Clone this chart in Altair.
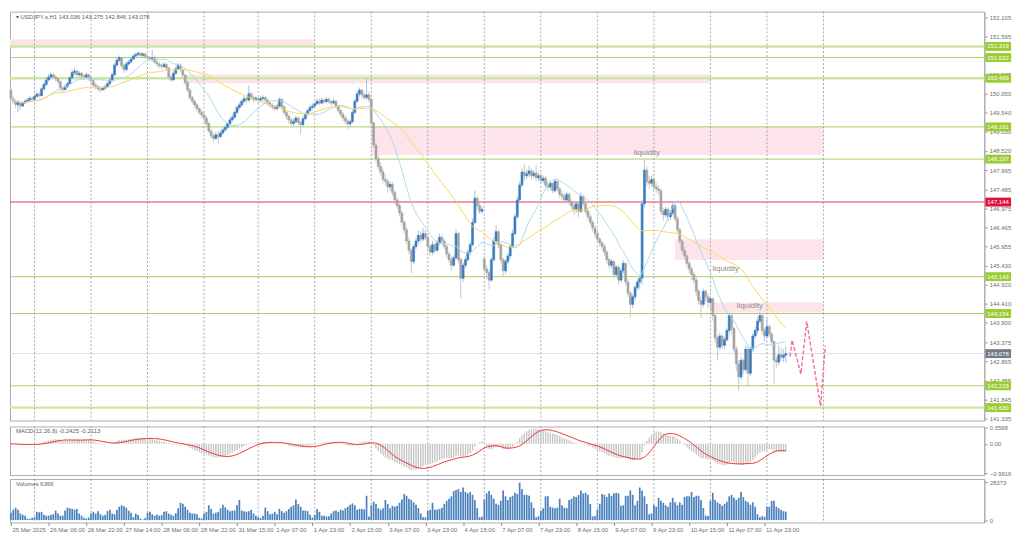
import json
import numpy as np
import pandas as pd
import altair as alt

# ---------------- data ----------------
header_text = "\u25be USDJPY.s,H1  143.036 143.275 142.846 143.078"
macd_text = "MACD(12,26,9) -0.2425 -0.2113"
vol_text = "Volumes 6366"

bar_labels = ["25 Mar 2025", "26 Mar 06:00", "26 Mar 22:00", "27 Mar 14:00", "28 Mar 06:00",
              "28 Mar 22:00", "31 Mar 15:00", "1 Apr 07:00", "1 Apr 23:00", "2 Apr 15:00",
              "3 Apr 07:00", "3 Apr 23:00", "4 Apr 15:00", "7 Apr 07:00", "7 Apr 23:00",
              "8 Apr 15:00", "9 Apr 07:00", "9 Apr 23:00", "10 Apr 15:00", "11 Apr 07:00",
              "11 Apr 23:00"]
label_every = 16
day_starts = [10, 34, 58, 82, 105, 129, 153, 177, 201, 225, 249, 273, 297, 321, 345]

price_ticks = [152.105, 151.595, 151.085, 150.575, 150.050, 149.540, 149.030, 148.520,
               147.995, 147.485, 146.975, 146.465, 145.955, 145.430, 144.920, 144.410,
               143.900, 143.375, 142.865, 142.355, 141.845, 141.335]
macd_ticks = [0.5568, 0.0, -0.9916]
vol_ticks = [0, 28373]

first_open = 150.15
gap_opens = {201: 145.62}
closes = [
    149.92, 149.85, 149.76, 149.82, 149.72, 149.80, 149.85, 149.88, 149.93, 149.90,
    149.98, 150.04, 150.00, 150.18, 150.30, 150.42, 150.50, 150.56, 150.50, 150.46,
    150.38, 150.20, 150.16, 150.24, 150.32, 150.48, 150.62, 150.66, 150.56, 150.60,
    150.52, 150.50, 150.56, 150.48, 150.40, 150.28, 150.24, 150.18, 150.16, 150.20,
    150.24, 150.32, 150.42, 150.56, 150.82, 150.95, 151.02, 150.80, 150.70, 150.85,
    150.90, 150.98, 151.06, 151.10, 151.14, 151.08, 151.12, 151.05, 151.02, 150.98,
    151.02, 150.90, 150.85, 150.80, 150.78, 150.84, 150.74, 150.50, 150.42, 150.60,
    150.72, 150.82, 150.70, 150.55, 150.35, 150.15, 149.95, 149.85, 149.75, 149.65,
    149.55, 149.48, 149.40, 149.25, 149.05, 148.92, 148.85, 148.95, 148.90, 149.00,
    149.08, 149.15, 149.25, 149.35, 149.42, 149.55, 149.68, 149.75, 149.85, 149.92,
    149.88, 150.05, 149.95, 149.90, 149.93, 149.88, 149.92, 149.95, 149.88, 149.80,
    149.75, 149.70, 149.65, 149.72, 149.90, 149.70, 149.55, 149.45, 149.35, 149.25,
    149.30, 149.40, 149.28, 149.22, 149.38, 149.50, 149.60, 149.68, 149.72, 149.78,
    149.85, 149.80, 149.88, 149.84, 149.90, 149.84, 149.80, 149.85, 149.72, 149.60,
    149.50, 149.40, 149.32, 149.24, 149.30, 149.55, 149.85, 150.05, 150.15, 150.02,
    149.95, 150.02, 149.90, 149.27, 148.67, 148.30, 148.10, 147.95, 147.75, 147.70,
    147.55, 147.62, 147.40, 147.20, 147.05, 146.85, 146.60, 146.40, 146.10, 145.85,
    145.55, 145.95, 146.10, 146.25, 146.15, 146.30, 146.20, 145.95, 145.80, 146.00,
    145.85, 146.05, 146.20, 146.10, 145.95, 145.75, 145.60, 145.45, 145.65, 146.30,
    145.60, 145.10, 145.45, 145.60, 145.80, 146.00, 146.60, 147.25, 147.05, 146.90,
    146.95, 145.35, 145.25, 145.05, 145.60, 146.10, 146.35, 146.00, 145.60, 145.30,
    145.55, 145.70, 145.95, 146.30, 146.75, 147.20, 147.60, 147.95, 147.85, 147.90,
    147.98, 147.85, 147.92, 147.80, 147.85, 147.72, 147.78, 147.60, 147.55, 147.65,
    147.45, 147.70, 147.50, 147.35, 147.30, 147.20, 147.35, 147.15, 147.05, 146.95,
    147.10, 146.90, 147.30, 147.10, 146.90, 146.75, 146.60, 146.45, 146.30, 146.15,
    146.05, 145.95, 145.80, 145.60, 145.45, 145.55, 145.20, 145.40, 145.05, 145.30,
    145.50, 145.00, 144.70, 144.40, 144.60, 144.85, 145.00, 145.10, 147.10, 148.00,
    147.70, 147.65, 147.75, 147.55, 147.50, 147.45, 146.90, 146.80, 146.95, 146.75,
    146.85, 147.05, 146.70, 146.40, 146.10, 145.85, 145.70, 145.50, 145.35, 145.20,
    145.05, 144.75, 144.50, 144.40, 144.75, 144.60, 144.45, 144.55, 144.10, 143.50,
    143.25, 143.55, 143.30, 143.45, 143.70, 144.10, 143.75, 143.20, 142.80, 142.45,
    142.90, 142.65, 143.20, 142.55, 143.20, 143.55, 143.70, 143.95, 144.10, 143.70,
    143.55, 143.80, 143.60, 143.40, 142.90, 142.85, 143.05, 142.98, 143.036, 143.078,
]
highs = [
    150.22, 149.98, 149.90, 149.88, 149.86, 149.84, 149.90, 149.94, 149.98, 149.97,
    150.04, 150.10, 150.08, 150.22, 150.36, 150.48, 150.58, 150.62, 150.60, 150.55,
    150.50, 150.40, 150.26, 150.30, 150.38, 150.52, 150.70, 150.76, 150.70, 150.66,
    150.64, 150.58, 150.62, 150.60, 150.52, 150.44, 150.34, 150.30, 150.24, 150.26,
    150.30, 150.38, 150.48, 150.62, 150.88, 151.00, 151.08, 151.04, 150.86, 150.92,
    150.96, 151.04, 151.12, 151.16, 151.19, 151.17, 151.16, 151.14, 151.10, 151.06,
    151.22, 151.08, 150.96, 150.90, 150.86, 150.90, 150.88, 150.78, 150.56, 150.66,
    150.78, 150.88, 150.86, 150.72, 150.58, 150.40, 150.20, 150.00, 149.90, 149.80,
    149.70, 149.62, 149.56, 149.45, 149.30, 149.10, 148.98, 149.02, 149.05, 149.06,
    149.14, 149.22, 149.30, 149.42, 149.50, 149.60, 149.74, 149.82, 149.90, 150.00,
    149.98, 150.27, 150.10, 150.00, 150.00, 149.96, 150.00, 150.02, 149.98, 149.92,
    149.84, 149.80, 149.74, 149.78, 149.96, 149.92, 149.74, 149.60, 149.50, 149.40,
    149.38, 149.46, 149.44, 149.32, 149.44, 149.56, 149.66, 149.76, 149.80, 149.84,
    149.92, 149.92, 149.94, 149.94, 149.96, 149.96, 149.88, 149.92, 149.88, 149.76,
    149.66, 149.56, 149.46, 149.38, 149.36, 149.62, 149.92, 150.12, 150.22, 150.18,
    150.08, 150.49, 150.10, 149.94, 149.30, 148.74, 148.40, 148.20, 148.04, 147.88,
    147.78, 147.70, 147.68, 147.46, 147.26, 147.10, 146.92, 146.66, 146.48, 146.20,
    145.90, 146.02, 146.20, 146.38, 146.36, 146.45, 146.40, 146.25, 146.02, 146.10,
    146.06, 146.12, 146.30, 146.28, 146.16, 146.00, 145.82, 145.68, 145.72, 146.42,
    146.34, 145.66, 145.52, 145.68, 145.88, 146.08, 146.70, 147.45, 147.30, 147.12,
    147.02, 145.70, 145.45, 145.32, 145.68, 146.20, 146.52, 146.40, 146.05, 145.66,
    145.62, 145.78, 146.02, 146.40, 146.82, 147.28, 147.70, 148.05, 148.15, 148.02,
    148.12, 148.05, 148.00, 148.14, 147.94, 147.92, 147.86, 147.84, 147.70, 147.72,
    147.66, 147.76, 147.72, 147.55, 147.44, 147.38, 147.42, 147.40, 147.22, 147.12,
    147.16, 147.14, 147.41, 147.34, 147.14, 146.96, 146.82, 146.66, 146.52, 146.40,
    146.20, 146.10, 146.02, 145.86, 145.66, 145.62, 145.58, 145.46, 145.45, 145.38,
    145.58, 145.52, 145.08, 144.76, 144.66, 144.92, 145.08, 145.18, 147.20, 148.28,
    148.10, 147.85, 147.86, 147.82, 147.66, 147.60, 147.50, 147.00, 147.02, 147.00,
    146.94, 147.15, 147.10, 146.76, 146.46, 146.16, 145.94, 145.76, 145.56, 145.42,
    145.28, 145.12, 144.82, 144.60, 144.82, 144.80, 144.68, 144.62, 144.58, 144.15,
    143.58, 143.64, 143.60, 143.52, 143.78, 144.18, 144.14, 143.80, 143.28, 142.90,
    142.98, 142.95, 143.30, 143.25, 143.26, 143.62, 143.80, 144.05, 144.20, 144.14,
    143.78, 144.03, 143.86, 143.66, 143.42, 143.00, 143.30, 143.24, 143.20, 143.275,
]
lows = [
    149.88, 149.78, 149.66, 149.56, 149.62, 149.70, 149.78, 149.82, 149.85, 149.84,
    149.86, 149.95, 149.94, 149.98, 150.14, 150.26, 150.38, 150.45, 150.44, 150.38,
    150.30, 150.12, 150.08, 150.14, 150.20, 150.30, 150.45, 150.55, 150.50, 150.50,
    150.45, 150.42, 150.46, 150.40, 150.32, 150.22, 150.16, 150.10, 150.08, 150.12,
    150.14, 150.20, 150.28, 150.38, 150.52, 150.78, 150.90, 150.72, 150.60, 150.66,
    150.80, 150.88, 150.95, 151.02, 151.06, 151.02, 151.04, 150.98, 150.95, 150.90,
    150.92, 150.86, 150.78, 150.74, 150.70, 150.74, 150.66, 150.44, 150.36, 150.40,
    150.56, 150.68, 150.62, 150.48, 150.28, 150.08, 149.88, 149.78, 149.66, 149.58,
    149.48, 149.40, 149.30, 149.18, 149.00, 148.86, 148.75, 148.82, 148.71, 148.86,
    148.95, 149.02, 149.10, 149.20, 149.30, 149.38, 149.50, 149.62, 149.70, 149.80,
    149.80, 149.84, 149.88, 149.82, 149.84, 149.80, 149.84, 149.86, 149.80, 149.72,
    149.68, 149.62, 149.58, 149.60, 149.68, 149.62, 149.48, 149.36, 149.25, 149.16,
    149.18, 149.26, 149.20, 148.97, 149.18, 149.34, 149.46, 149.56, 149.62, 149.68,
    149.74, 149.74, 149.76, 149.78, 149.80, 149.78, 149.72, 149.76, 149.66, 149.54,
    149.42, 149.32, 149.22, 149.10, 149.18, 149.26, 149.50, 149.80, 149.98, 149.94,
    149.88, 149.90, 149.82, 149.20, 148.60, 148.22, 148.02, 147.85, 147.66, 147.60,
    147.40, 147.45, 147.30, 147.10, 146.96, 146.76, 146.50, 146.30, 146.02, 145.75,
    145.24, 145.48, 145.88, 146.02, 146.05, 146.08, 146.12, 145.88, 145.70, 145.72,
    145.76, 145.80, 146.00, 146.02, 145.88, 145.66, 145.52, 145.30, 145.40, 145.60,
    145.50, 144.55, 145.00, 145.38, 145.55, 145.72, 145.96, 146.55, 146.95, 146.82,
    146.84, 145.28, 145.10, 144.81, 145.00, 145.55, 146.02, 145.90, 145.50, 145.15,
    145.22, 145.48, 145.62, 145.90, 146.25, 146.70, 147.15, 147.55, 147.72, 147.75,
    147.82, 147.74, 147.78, 147.70, 147.72, 147.64, 147.66, 147.52, 147.44, 147.48,
    147.38, 147.40, 147.42, 147.26, 147.18, 147.10, 147.14, 147.06, 146.95, 146.80,
    146.86, 146.74, 146.85, 147.02, 146.82, 146.66, 146.52, 146.36, 146.20, 146.05,
    145.96, 145.84, 145.70, 145.50, 145.36, 145.38, 145.10, 145.14, 144.94, 144.98,
    145.22, 144.90, 144.59, 144.05, 144.30, 144.52, 144.78, 144.80, 144.94, 147.00,
    147.58, 147.50, 147.56, 147.44, 147.38, 147.32, 146.80, 146.64, 146.72, 146.62,
    146.66, 146.78, 146.62, 146.32, 146.02, 145.76, 145.60, 145.40, 145.22, 145.05,
    144.95, 144.62, 144.38, 144.05, 144.32, 144.48, 144.30, 144.25, 143.96, 143.38,
    142.90, 143.18, 143.20, 143.22, 143.40, 143.62, 143.60, 143.10, 142.60, 142.08,
    142.38, 142.52, 142.60, 142.21, 142.48, 143.12, 143.48, 143.60, 143.88, 143.60,
    143.40, 143.48, 143.52, 143.30, 142.25, 142.70, 142.76, 142.88, 142.86, 142.846,
]
volumes = [
    5500, 7800, 9300, 7800, 4900, 4000, 3300, 1100, 900, 1800,
    2200, 6200, 5800, 6200, 4000, 3300, 3300, 4000, 4400, 7100, 4900, 3300, 3300, 7100,
    9300, 8900, 8400, 7800, 8400, 4900, 3300, 1800, 1100, 2000,
    4900, 6200, 4900, 6700, 4400, 3300, 4000, 6700, 7800, 4900, 4400, 7800, 10000, 11100,
    10400, 9300, 7100, 5500, 2200, 4900, 3800, 1100, 400, 1500,
    5500, 6200, 4400, 3300, 4000, 3300, 3800, 6200, 6700, 4900, 4000, 3300, 5200, 8900,
    12900, 12200, 10000, 7800, 5500, 4900, 4900, 4400, 1800, 1200,
    4900, 6200, 11100, 8400, 4900, 5500, 6200, 8900, 11500, 9500, 7800, 6700, 7100, 7100,
    11100, 15100, 7100, 6700, 6200, 6700, 7800, 5000, 3300,
    2200, 1500, 3300, 9300, 6700, 4400, 4900, 6200, 4400, 8400, 6700, 5500, 6700, 8400,
    10000, 11100, 15500, 12000, 10000, 7100, 7100, 6700, 4000, 1800,
    4000, 8400, 6200, 3300, 3300, 2700, 2900, 4900, 6700, 7100, 6200, 7800, 7100, 8900,
    10000, 11500, 12500, 11100, 7800, 8400, 8400, 8000, 18200, 2700,
    11100, 13800, 12200, 8900, 7800, 8900, 15100, 12000, 8900, 10700, 10000, 10700, 12900,
    15500, 19500, 18200, 16000, 15100, 13300, 11500, 9000, 4900, 2200, 2000,
    7100, 7800, 12900, 7800, 7800, 8400, 9300, 12200, 14400, 16000, 17800, 21800, 22600,
    23300, 21100, 24400, 21100, 20000, 21100, 18900, 15000, 8900, 2200, 2500,
    15500, 20000, 21800, 18900, 16000, 12200, 11500, 14400, 22200, 17800, 15100, 17300,
    18200, 20400, 19500, 28000, 23300, 18900, 18900, 18200, 13300, 9000, 2200, 3000,
    7100, 8900, 17800, 17800, 10000, 9300, 8900, 9300, 16000, 11100, 9300, 8900, 15100,
    16000, 17800, 17300, 18900, 22200, 20000, 20400, 19000, 12000, 2700, 3000,
    7800, 12200, 19500, 18900, 17300, 20000, 18200, 20000, 20400, 20000, 10700, 11100,
    18200, 18200, 22200, 18900, 11100, 14400, 24400, 22200, 17800, 12000, 4400, 5000,
    11500, 10000, 16700, 14400, 12900, 11100, 10000, 13300, 16700, 13300, 11100, 13300,
    11500, 17300, 17800, 17800, 21100, 17300, 18200, 18200, 15000, 9000, 3300, 3000,
    14400, 20400, 15100, 13300, 12200, 10700, 12200, 13800, 17800, 18900, 16700, 15100,
    16700, 21100, 17300, 14400, 13300, 11500, 13300, 10000, 4400, 2200, 3000, 2500,
    10000, 10000, 14400, 14400, 10000, 8900, 7500, 6700, 6366,
]

levels = [151.319, 151.022, 150.466, 149.161, 148.297, 147.144, 145.143, 144.154, 142.215, 141.630]
level_kind = ["pale", "line", "pale", "line", "line", "red", "line", "line", "line", "pale"]
bid_price = 143.078

zone_from = [-1, 74, 153, 282, 297.5]
zone_to = [129, 297, 345, 345, 345]
zone_low = [151.34, 150.33, 148.41, 145.59, 144.18]
zone_high = [151.51, 150.57, 149.17, 146.15, 144.45]

liq_bar = [270, 303.5, 313.75]
liq_price = [148.46, 145.34, 144.35]

proj_bar = [330.8, 331.7, 335.4, 337.9, 343.75, 345.8]
proj_price = [143.00, 143.44, 142.53, 143.94, 141.67, 143.29]

# ---------------- layout / style ----------------
W, H1, H2, H3 = 984, 413, 49, 44
X_DOMAIN = [-0.4, 413.3]
P_DOMAIN = [141.283, 152.255]
M_DOMAIN = [-1.057, 0.589]
V_DOMAIN = [-1800, 30800]
FONT = "Liberation Sans"
TXT = "#6e6e6e"
GRID = "#8e949a"
BORDER = "#a6acb3"

line_style = {"pale": ("#cfe5a2", 2.4), "line": ("#a9d05f", 1.0), "red": ("#e23a55", 1.1)}
box_style = {"pale": "#9acd32", "line": "#9acd32", "red": "#dc143c"}

# ---------------- tables ----------------
n = len(closes)
opens = [first_open] + closes[:-1]
for k, v in gap_opens.items():
    opens[k] = v
cdf = pd.DataFrame({"bar": np.arange(n), "open": opens, "high": highs, "low": lows, "close": closes})
up = cdf["close"] >= cdf["open"]
cdf["body_color"] = np.where(up, "#3b7bbf", "#a3a3a3")
cdf["wick_color"] = np.where(up, "#a2c2e4", "#c8c8c8")

close_s = pd.Series(closes)
macd_main = close_s.ewm(span=12, adjust=False).mean() - close_s.ewm(span=26, adjust=False).mean()
macd_sig = macd_main.rolling(9, min_periods=1).mean()
mdf = pd.DataFrame({"bar": np.arange(n), "macd": macd_main, "signal": macd_sig})

vdf = pd.DataFrame({"bar": np.arange(len(volumes)), "vol": volumes})
ddf = pd.DataFrame({"bar": day_starts})
zdf = pd.DataFrame({"x1": zone_from, "x2": zone_to, "lo": zone_low, "hi": zone_high})
ldf = pd.DataFrame({"price": levels,
                    "lc": [line_style[k][0] for k in level_kind],
                    "lw": [line_style[k][1] for k in level_kind]})
bdf = pd.DataFrame({"price": levels + [bid_price],
                    "fill": [box_style[k] for k in level_kind] + ["#737b85"]})
liq = pd.DataFrame({"bar": liq_bar, "price": liq_price, "t": ["liquidity"] * len(liq_bar)})
proj = pd.DataFrame({"bar": proj_bar, "price": proj_price, "i": range(len(proj_bar))})

# ---------------- scales & axes ----------------
xs = alt.Scale(domain=X_DOMAIN, nice=False, zero=False)
ps = alt.Scale(domain=P_DOMAIN, nice=False, zero=False)
ms = alt.Scale(domain=M_DOMAIN, nice=False, zero=False)
vs = alt.Scale(domain=V_DOMAIN, nice=False, zero=False)

def right_axis(values, **kw):
    return alt.Axis(orient="right", values=values, title=None, grid=False, labelFontSize=6,
                    labelColor=TXT, labelFont=FONT, tickSize=3, tickColor="#9a9a9a",
                    domainColor=BORDER, labelPadding=2, labelOverlap=False, **kw)

p_axis = right_axis(price_ticks, format=".3f")
m_axis = right_axis(macd_ticks, labelExpr="datum.value == 0 ? '0.00' : format(datum.value, '.4f')")
v_axis = right_axis(vol_ticks, format="d")
x_axis = alt.Axis(values=[label_every * i for i in range(len(bar_labels))],
                  labelExpr=json.dumps(bar_labels) + "[round(datum.value / %d)]" % label_every,
                  labelAlign="left", labelFontSize=6, labelColor=TXT, labelFont=FONT,
                  tickSize=3, tickColor="#8a8a8a", labelPadding=1, labelOffset=1,
                  domain=False, grid=False, title=None, labelOverlap=False, labelFlush=False,
                  labelBound=False)

X = lambda f, ax=None: alt.X(f, scale=xs, axis=ax)
YP = lambda f: alt.Y(f, scale=ps, axis=p_axis)

def day_rules(ax=None):
    return alt.Chart(ddf).mark_rule(color=GRID, strokeDash=[2, 2], strokeWidth=0.8).encode(
        x=X("bar:Q", ax))

def corner_text(text, y):
    return alt.Chart(pd.DataFrame({"t": [text]})).mark_text(
        align="left", baseline="middle", fontSize=6, font=FONT, color="#5e5e5e").encode(
        x=alt.value(6), y=alt.value(y), text="t:N")

# ---------------- main pane ----------------
zones = alt.Chart(zdf).mark_rect(color="#fce4ea", clip=True).encode(
    x=X("x1:Q"), x2="x2:Q", y=YP("lo:Q"), y2="hi:Q")
level_rules = alt.Chart(ldf).mark_rule().encode(
    y=YP("price:Q"), color=alt.Color("lc:N", scale=None), strokeWidth=alt.StrokeWidth("lw:Q", scale=None))
bid_rule = alt.Chart(pd.DataFrame({"price": [bid_price]})).mark_rule(color="#dcdfea", strokeWidth=1).encode(
    y=YP("price:Q"))
ma_base = alt.Chart(cdf).transform_window(
    fast="mean(close)", frame=[-15, 0], sort=[alt.SortField("bar")]).transform_window(
    slow="mean(close)", frame=[-43, 0], sort=[alt.SortField("bar")])
ma_fast = ma_base.mark_line(color="#a9d9f2", strokeWidth=1).encode(x=X("bar:Q"), y=YP("fast:Q"))
ma_slow = ma_base.mark_line(color="#f9d75a", strokeWidth=1).encode(x=X("bar:Q"), y=YP("slow:Q"))
wicks = alt.Chart(cdf).mark_rule(strokeWidth=1).encode(
    x=X("bar:Q"), y=YP("low:Q"), y2="high:Q", color=alt.Color("wick_color:N", scale=None))
bodies = alt.Chart(cdf).transform_calculate(
    x1="datum.bar - 0.42", x2="datum.bar + 0.42").mark_rect(strokeWidth=0.6).encode(
    x=X("x1:Q"), x2="x2:Q", y=YP("open:Q"), y2="close:Q",
    color=alt.Color("body_color:N", scale=None), stroke=alt.Stroke("body_color:N", scale=None))
proj_line = alt.Chart(proj).mark_line(color="#f06c9c", strokeWidth=1.4, strokeDash=[4, 2]).encode(
    x=X("bar:Q"), y=YP("price:Q"), order="i:Q")
liq_text = alt.Chart(liq).mark_text(fontSize=8, font=FONT, color="#8c8c8c", baseline="middle").encode(
    x=X("bar:Q"), y=YP("price:Q"), text="t:N")
box_rules = alt.Chart(bdf).mark_rule(strokeWidth=9, clip=False).encode(
    x=alt.value(W + 1), x2=alt.value(W + 27), y=YP("price:Q"), color=alt.Color("fill:N", scale=None))
box_text = alt.Chart(bdf).mark_text(align="left", baseline="middle", fontSize=6, font=FONT,
                                    color="white").encode(
    x=alt.value(W + 3), y=YP("price:Q"), text=alt.Text("price:Q", format=".3f"))

main = alt.layer(zones, level_rules, bid_rule, day_rules(), wicks, bodies, ma_fast, ma_slow,
                 proj_line, liq_text, corner_text(header_text, 5), box_rules, box_text
                 ).properties(width=W, height=H1)

# ---------------- MACD pane ----------------
hist = alt.Chart(mdf).transform_calculate(
    x1="datum.bar - 0.28", x2="datum.bar + 0.28", zero="0").mark_rect(color="#c4c4c4", clip=True).encode(
    x=X("x1:Q"), x2="x2:Q", y=alt.Y("macd:Q", scale=ms, axis=m_axis), y2="zero:Q")
sig = alt.Chart(mdf).mark_line(color="#f03434", strokeWidth=1, clip=True).encode(
    x=X("bar:Q"), y=alt.Y("signal:Q", scale=ms, axis=m_axis))
macd_pane = alt.layer(day_rules(), hist, sig, corner_text(macd_text, 5)).properties(width=W, height=H2)

# ---------------- volume pane ----------------
vbars = alt.Chart(vdf).transform_calculate(
    x1="datum.bar - 0.36", x2="datum.bar + 0.36", zero="0").mark_rect(color="#4a81bc").encode(
    x=X("x1:Q", x_axis), x2="x2:Q", y=alt.Y("vol:Q", scale=vs, axis=v_axis), y2="zero:Q")
vol_pane = alt.layer(day_rules(x_axis), vbars, corner_text(vol_text, 5)).properties(width=W, height=H3)

chart = alt.vconcat(main, macd_pane, vol_pane, spacing=1).properties(
    padding=0, background="white").configure_view(stroke=BORDER, strokeWidth=1)

chart.save("out.html", embed_options={"renderer": "svg", "actions": False})
